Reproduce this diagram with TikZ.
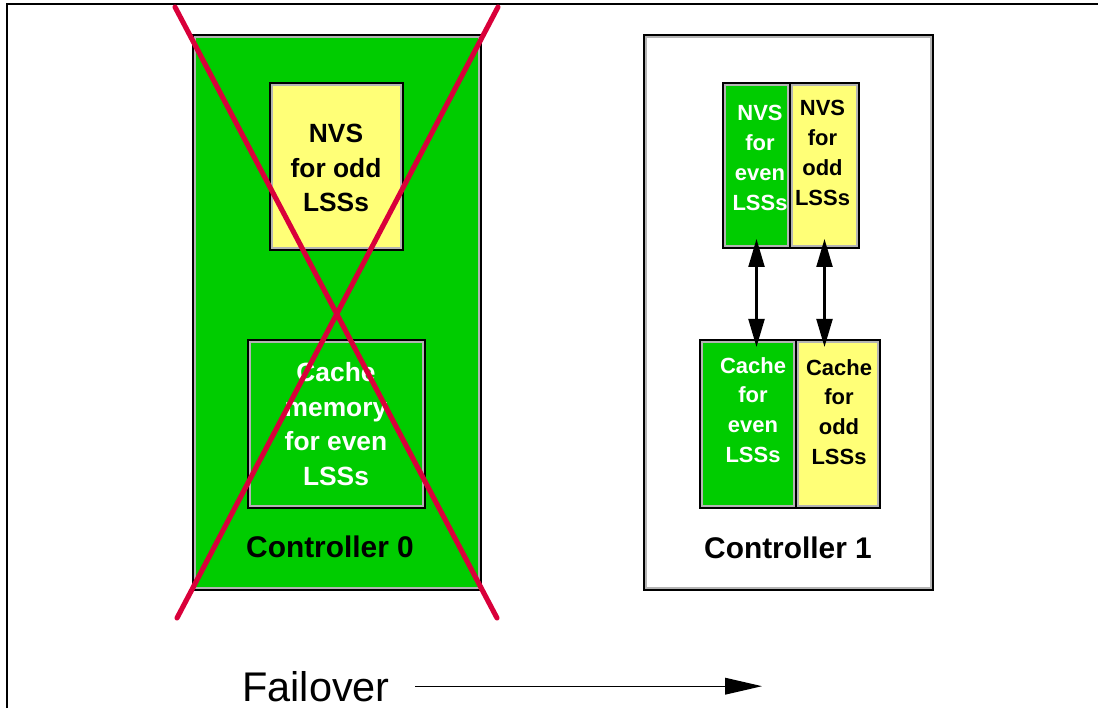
\documentclass[tikz,border=0pt]{standalone}
\usepackage{fontspec}
\setmainfont{Liberation Sans}
\usetikzlibrary{arrows.meta}
\usetikzlibrary{calc}

\definecolor{cardgreen}{HTML}{00CC00}
\definecolor{cardyellow}{HTML}{FFFF77}
\definecolor{edgegray}{HTML}{B4B4B4}
\definecolor{crossred}{HTML}{D9003A}

\begin{document}
\begin{tikzpicture}[x=0.02cm, y=-0.02cm,
    card/.style={draw=black, line width=1pt, inner sep=0pt,
      path picture={\draw[edgegray, line width=3.6pt] (path picture bounding box.south west) rectangle (path picture bounding box.north east);}},
    wtxt/.style={text=white, align=center, inner sep=0pt},
    btxt/.style={text=black, align=center, inner sep=0pt},
    bigtxt/.style={font=\fontsize{15}{19.8}\selectfont\bfseries},
    smalltxt/.style={font=\fontsize{12.5}{17}\selectfont\bfseries},
    link/.style={line width=1.6pt, {Triangle[length=16pt,width=9pt]}-{Triangle[length=16pt,width=9pt]}, shorten <=-5.7pt, shorten >=-4.5pt}]
    \useasboundingbox (0,0) rectangle (1098,708);
    \draw[line width=1.1pt] (7,708) -- (7,4) -- (1098,4);

    % failed controller
    \node[card, fill=cardgreen, minimum width=5.76cm, minimum height=11.1cm] (ctrl0) at (337,312.5) {};
    \node[card, fill=cardyellow, minimum width=2.66cm, minimum height=3.34cm] (nvsodd0) at (336.5,166.5) {};
    \node[card, fill=cardgreen, minimum width=3.54cm, minimum height=3.36cm] (cache0) at (336.5,424) {};
    \node[btxt, bigtxt] (nvsodd0txt) at (336,168) {NVS\\for odd\\LSSs};
    \node[wtxt, bigtxt] (cache0txt) at (336,424) {Cache\\memory\\for even\\LSSs};
    \node[font=\fontsize{17}{20}\selectfont\bfseries] (ctrl0txt) at (330,547) {Controller 0};

    % surviving controller
    \node[card, fill=white, minimum width=5.78cm, minimum height=11.1cm] (ctrl1) at (788.5,312.5) {};
    \node[card, fill=cardgreen, minimum width=1.34cm, minimum height=3.3cm] (nvseven) at (756.5,165.5) {};
    \node[card, fill=cardyellow, minimum width=1.38cm, minimum height=3.3cm] (nvsodd) at (824.5,165.5) {};
    \node[card, fill=cardgreen, minimum width=1.92cm, minimum height=3.36cm] (cacheeven) at (748,424) {};
    \node[card, fill=cardyellow, minimum width=1.68cm, minimum height=3.36cm] (cacheodd) at (838,424) {};
    \node[wtxt, smalltxt] (nvseventxt) at (760,158) {NVS\\for\\even\\LSSs};
    \node[btxt, smalltxt] (nvsoddtxt) at (822.5,153) {NVS\\for\\odd\\LSSs};
    \node[wtxt, smalltxt] (cacheeventxt) at (753,410) {Cache\\for\\even\\LSSs};
    \node[btxt, smalltxt] (cacheoddtxt) at (839,412) {Cache\\for\\odd\\LSSs};
    \node[font=\fontsize{17}{20}\selectfont\bfseries] (ctrl1txt) at (788,548) {Controller 1};

    \draw[link] (nvseven.south) -- (nvseven.south |- cacheeven.north);
    \draw[link] (nvsodd.south) -- (nvsodd.south |- cacheodd.north);

    % cross over controller 0
    \coordinate (xtl) at (175,7);
    \coordinate (xtr) at (498,7);
    \coordinate (xbl) at (177,618);
    \coordinate (xbr) at (497,618);
    \draw[crossred, line width=2.9pt, line cap=round] (xtl) -- (xbr) (xtr) -- (xbl);

    \node[anchor=base west, inner sep=0pt, font=\fontsize{23.6}{28}\selectfont] (fail) at (242,701) {Failover};
    \coordinate (failtip) at (762,686);
    \draw[line width=0.7pt, -{Triangle[length=21pt,width=9.5pt]}] ([xshift=0.5cm]fail.east) -- (fail.east -| failtip);
\end{tikzpicture}
\end{document}
